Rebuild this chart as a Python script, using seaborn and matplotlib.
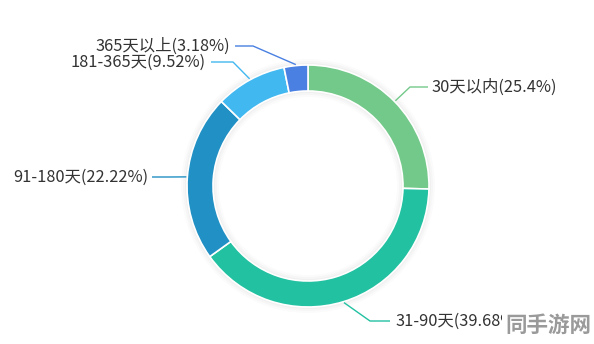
import numpy as np
import matplotlib
matplotlib.use("Agg")
import matplotlib.pyplot as plt
import seaborn as sns

# ---- data ----
categories = ["30天以内", "31-90天", "91-180天", "181-365天", "365天以上"]
percents = [25.4, 39.68, 22.22, 9.52, 3.18]
colors = ["#73C98A", "#22C1A1", "#2190C4", "#42B8F0", "#4A80E2"]
pct_labels = ["25.4%", "39.68%", "22.22%", "9.52%", "3.18%"]

sns.set_theme(style="white")
plt.rcParams['font.family'] = ['Noto Sans CJK SC', 'DejaVu Sans']

W, H = 594, 344
fig = plt.figure(figsize=(W / 100, H / 100), dpi=100)
ax = fig.add_axes([0, 0, 1, 1])
ax.set_xlim(0, W)
ax.set_ylim(0, H)
ax.axis("off")

cx, cy = 308, H - 186
R, ring = 121, 26

# faint shadow
for k, a in enumerate([0.025, 0.02, 0.015]):
    ax.pie([1], radius=R + 2 + 2 * k, center=(cx, cy), colors=["#000000"],
           wedgeprops=dict(width=ring + 4 + 4 * k, alpha=a, linewidth=0))

wedges, _ = ax.pie(percents, radius=R, center=(cx, cy), colors=colors,
                   startangle=90, counterclock=False,
                   wedgeprops=dict(width=ring, edgecolor="white", linewidth=1.2))
ax.set_xlim(0, W)
ax.set_ylim(0, H)
ax.set_aspect("equal")

# label layout (pixel coords, y from top): elbow, line end, text x, ha
layout = [
    ((410, 87), (428, 87), 432, "left"),
    ((370, 321), (390, 321), 395, "left"),
    ((170, 177), (152, 177), 148, "right"),
    ((233, 62), (211, 62), 206, "right"),
    ((253, 46), (235, 46), 230, "right"),
]

for w, cat, pl, col, (elb, end, tx, ha) in zip(wedges, categories, pct_labels, colors, layout):
    ang = np.deg2rad((w.theta1 + w.theta2) / 2)
    ax_ = cx + (R + 1) * np.cos(ang)
    ay_ = cy + (R + 1) * np.sin(ang)
    xs = [ax_, elb[0], end[0]]
    ys = [ay_, H - elb[1], H - end[1]]
    ax.plot(xs, ys, color=col, linewidth=1.0, solid_capstyle="butt")
    ax.text(tx, H - end[1], f"{cat}({pl})", ha=ha, va="center",
            fontsize=11.8, color="#333333")

# watermark
ax.text(505, H - 325, "同手游网", ha="left", va="center", fontsize=15.5,
        fontweight="bold", color="#9a9a9a",
        bbox=dict(boxstyle="square,pad=0.15", fc="white", ec="none"))

fig.savefig("out.png", dpi=100)
